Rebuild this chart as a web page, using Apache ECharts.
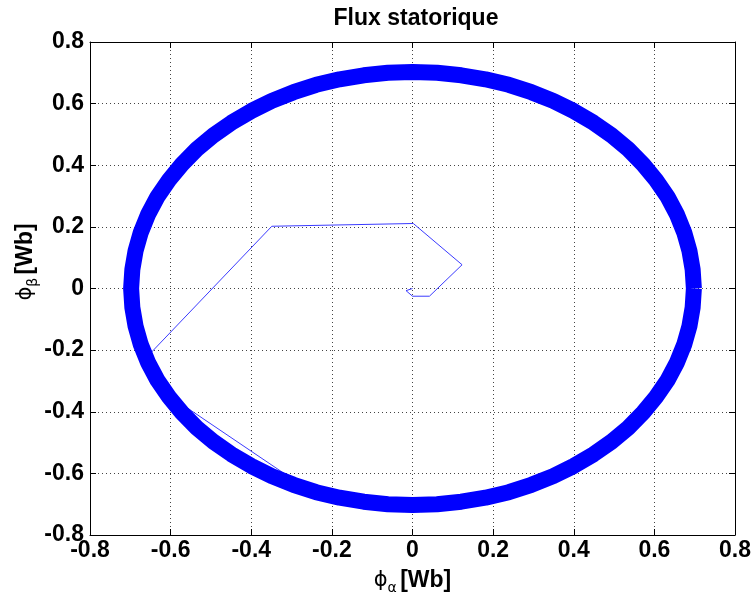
<!DOCTYPE html>
<html><head><meta charset="utf-8">
<script src="https://cdn.jsdelivr.net/npm/echarts@6/dist/echarts.min.js"></script>
<style>html,body{margin:0;padding:0;background:#fff;overflow:hidden}#c{width:755px;height:596px}</style>
</head><body><div id="c"></div>
<script>
const xTicks = [-0.8,-0.6,-0.4,-0.2,0,0.2,0.4,0.6,0.8];
const yTicks = [-0.8,-0.6,-0.4,-0.2,0,0.2,0.4,0.6,0.8];
// steady-state flux ring (centre line, every ~5 degrees)
const ringAlpha = [
 0.698,0.695,0.687,0.674,0.656,0.633,0.604,0.572,0.535,0.494,0.449,0.400,0.349,0.295,0.239,0.181,0.121,0.061,0.000,
 -0.061,-0.121,-0.181,-0.239,-0.295,-0.349,-0.400,-0.449,-0.494,-0.535,-0.572,-0.604,-0.633,-0.656,-0.674,-0.687,-0.695,-0.698,
 -0.695,-0.687,-0.674,-0.656,-0.633,-0.604,-0.572,-0.535,-0.494,-0.449,-0.400,-0.349,-0.295,-0.239,-0.181,-0.121,-0.061,0.000,
 0.061,0.121,0.181,0.239,0.295,0.349,0.400,0.449,0.494,0.535,0.572,0.604,0.633,0.656,0.674,0.687,0.695,0.698];
const ringBeta = [
 0.000,0.061,0.122,0.182,0.240,0.297,0.352,0.403,0.452,0.497,0.538,0.576,0.609,0.637,0.661,0.679,0.692,0.700,0.703,
 0.700,0.692,0.679,0.661,0.637,0.609,0.576,0.538,0.497,0.452,0.403,0.352,0.297,0.240,0.182,0.122,0.061,0.000,
 -0.061,-0.122,-0.182,-0.240,-0.297,-0.352,-0.403,-0.452,-0.497,-0.538,-0.576,-0.609,-0.637,-0.661,-0.679,-0.692,-0.700,-0.703,
 -0.700,-0.692,-0.679,-0.661,-0.637,-0.609,-0.576,-0.538,-0.497,-0.452,-0.403,-0.352,-0.297,-0.240,-0.182,-0.122,-0.061,0.000];
// transient trajectory
const transAlpha = [0, -0.016, 0, 0.042, 0.123, 0.002, -0.349, -0.647];
const transBeta  = [0, -0.007, -0.025, -0.025, 0.077, 0.211, 0.202, -0.206];
const chordAlpha = [-0.59, -0.304];
const chordBeta  = [-0.36, -0.613];

const zip = (a,b)=>a.map((v,i)=>[v,b[i]]);
const NARROW = "'Liberation Sans Narrow', 'Arial Narrow', 'Liberation Sans', Arial, sans-serif";
const FONT = "'Liberation Sans', Arial, sans-serif";
const chart = echarts.init(document.getElementById('c'));
const axisCommon = {
  type:'value', min:-0.8, max:0.8, interval:0.2,
  axisLine:{show:true, onZero:false, lineStyle:{color:'#000', width:1}},
  axisTick:{show:true, inside:true, length:6, lineStyle:{color:'#000'}},
  splitLine:{show:true, lineStyle:{color:'#444', type:[1,3], width:1}},
};
const labelStyle = {fontFamily:NARROW, fontWeight:'bold', fontSize:23, color:'#000',
  formatter:v=>String(+v.toFixed(1))};
const nameRich = {
  phi:{fontFamily:"'DejaVu Sans'", fontSize:21, color:'#000', lineHeight:28, verticalAlign:'middle'},
  sub:{fontFamily:"'DejaVu Sans'", fontSize:14, color:'#000', lineHeight:28, verticalAlign:'bottom'},
  u:{fontFamily:NARROW, fontWeight:'bold', fontSize:23, color:'#000', lineHeight:28, verticalAlign:'middle'}
};
chart.setOption({
  animation:false,
  backgroundColor:'#fff',
  title:{text:'Flux statorique', left:411, textAlign:'center', top:2,
    textStyle:{fontFamily:FONT, fontWeight:'bold', fontSize:23, color:'#000'}},
  grid:{left:90, right:20, top:42, bottom:61, containLabel:false, outerBoundsMode:'none'},
  graphic:[{
    type:'text', x:26, y:262, rotation:Math.PI/2,
    style:{text:'{phi|ϕ}{sub|β} {u|[Wb]}', rich:nameRich, align:'center', verticalAlign:'middle'}
  }],
  xAxis:[
    Object.assign({}, axisCommon, {position:'bottom',
      axisLabel:Object.assign({margin:4}, labelStyle),
      name:'{phi|ϕ}{sub|α} {u|[Wb]}', nameLocation:'middle', nameGap:32,
      nameTextStyle:{rich:nameRich}}),
    Object.assign({}, axisCommon, {position:'top', axisLabel:{show:false}, splitLine:{show:false}})
  ],
  yAxis:[
    Object.assign({}, axisCommon, {position:'left',
      axisLabel:Object.assign({margin:6}, labelStyle)}),
    Object.assign({}, axisCommon, {position:'right', axisLabel:{show:false}, splitLine:{show:false}})
  ],
  series:[
    {type:'line', data:zip(transAlpha, transBeta), showSymbol:false, symbol:'none',
      lineStyle:{color:'#3b3bff', width:1}, z:2},
    {type:'line', data:zip(chordAlpha, chordBeta), showSymbol:false, symbol:'none',
      lineStyle:{color:'#3b3bff', width:1}, z:2},
    {type:'line', data:zip(ringAlpha, ringBeta), showSymbol:false, symbol:'none',
      lineStyle:{color:'#0000ff', width:16, join:'round'}, z:3}
  ]
});
</script></body></html>
